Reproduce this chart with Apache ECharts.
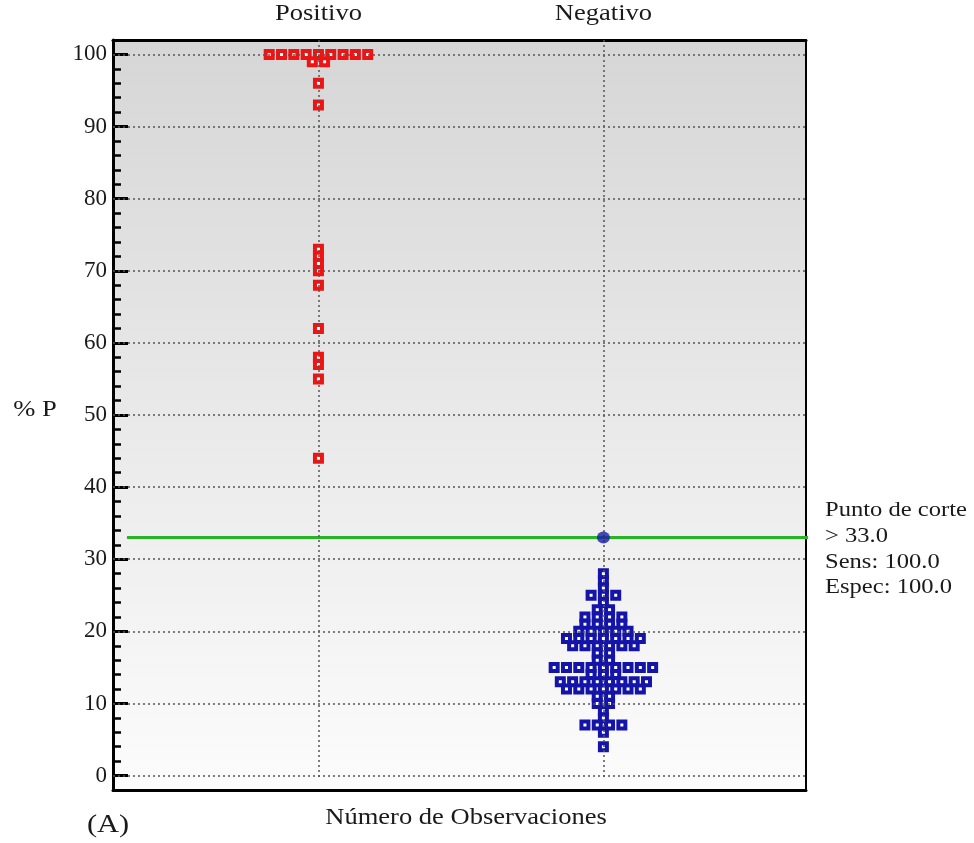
<!DOCTYPE html>
<html><head><meta charset="utf-8">
<script src="https://cdn.jsdelivr.net/npm/echarts@6/dist/echarts.min.js"></script>
<style>html,body{margin:0;padding:0;background:#fff}#c{width:974px;height:843px}</style>
</head><body><div id="c"></div>
<script>
// ---- data ----
const categories = ['Positivo', 'Negativo'];
const positivoValues = [100, 100, 100, 100, 100, 100, 100, 100, 100, 99, 99, 96, 93,
  73, 72, 71, 70, 68, 62, 58, 57, 55, 44];
const negativoValues = [28, 27, 26, 25, 25, 25, 24, 23, 23,
  22, 22, 22, 22, 21, 21, 21, 21, 20, 20, 20, 20, 20,
  19, 19, 19, 19, 19, 19, 19, 18, 18, 18, 18, 18, 18,
  17, 17, 16, 16, 15, 15, 15, 15, 15, 15, 15, 15, 15,
  14, 14, 14, 13, 13, 13, 13, 13, 13, 13, 13,
  12, 12, 12, 12, 12, 12, 12, 11, 11, 10, 10, 9, 8,
  7, 7, 7, 7, 6, 4];
const yTickValues = [0, 10, 20, 30, 40, 50, 60, 70, 80, 90, 100];
const yTickLabels = ['0', '10', '20', '30', '40', '50', '60', '70', '80', '90', '100'];
const cutoffValue = 33.0;
const sensValue = 100.0;
const especValue = 100.0;
const yAxisName = '% P';
const xAxisName = 'Número de Observaciones';
const panelLabel = '(A)';

// ---- layout / style ----
const SERIF = '"Liberation Serif", "Times New Roman", "DejaVu Serif", serif';
const TXT = '#1a1a1a';
const SLOT = 0.0432;       // horizontal spacing of stacked dots, x-axis units
const SX = 1.17;           // horizontal stretch of the original lettering
const X_MIN = 0.279, X_MAX = 2.711, Y_MIN = -2, Y_MAX = 102;

function stackDots(values, center) {
  const counts = new Map();
  values.forEach(v => counts.set(v, (counts.get(v) || 0) + 1));
  const out = [];
  counts.forEach((n, v) => {
    for (let i = 0; i < n; i++) out.push([center + (i - (n - 1) / 2) * SLOT, v]);
  });
  return out;
}

const chart = echarts.init(document.getElementById('c'), null, {renderer: 'canvas'});
const frame = w => ({show: true, onZero: false, lineStyle: {color: '#000', width: w}});

chart.setOption({
  animation: false,
  backgroundColor: '#fff',
  grid: {
    left: 113, top: 40, width: 693, height: 750, show: true, borderWidth: 0,
    backgroundColor: {type: 'linear', x: 0, y: 0, x2: 0, y2: 1,
      colorStops: [{offset: 0, color: '#d6d6d6'}, {offset: 1, color: '#fcfcfc'}]}
  },
  xAxis: [
    {type: 'value', min: X_MIN, max: X_MAX, position: 'bottom', axisLine: frame(3),
     axisTick: {show: false}, axisLabel: {show: false}, splitLine: {show: false}},
    {type: 'value', min: X_MIN, max: X_MAX, position: 'top', axisLine: frame(3),
     axisTick: {show: false}, axisLabel: {show: false}, splitLine: {show: false}}
  ],
  yAxis: [
    {type: 'value', min: Y_MIN, max: Y_MAX, interval: 2, position: 'left', axisLine: frame(3),
     axisTick: {show: true, inside: true, length: 8, lineStyle: {color: '#000', width: 2.5}},
     axisLabel: {show: false}, splitLine: {show: false}},
    {type: 'value', min: Y_MIN, max: Y_MAX, position: 'left', offset: 0,
     axisLine: {show: false},
     axisTick: {show: true, inside: true, length: 15, customValues: yTickValues,
       lineStyle: {color: '#000', width: 3}},
     axisLabel: {show: true, customValues: yTickValues, margin: 6,
       formatter: v => yTickLabels[yTickValues.indexOf(v)],
       fontFamily: SERIF, fontSize: 23, color: TXT},
     splitLine: {show: false}},
    {type: 'value', min: Y_MIN, max: Y_MAX, position: 'right', axisLine: frame(2),
     axisTick: {show: false}, axisLabel: {show: false}, splitLine: {show: false}}
  ],
  series: [
    {
      type: 'line', data: [], silent: true, z: 1,
      markLine: {
        silent: true, symbol: 'none', animation: false, label: {show: false},
        lineStyle: {color: '#555', type: [2, 3], width: 1.5},
        data: yTickValues.map(v => ({yAxis: v})).concat(
          categories.map((c, i) => [{coord: [i + 1, Y_MAX]}, {coord: [i + 1, -0.4]}]))
      }
    },
    {
      name: categories[0], type: 'scatter', z: 3, symbol: 'rect', symbolSize: 7,
      itemStyle: {color: '#fff', borderColor: '#ee1414', borderWidth: 4, opacity: 1},
      data: stackDots(positivoValues, 1)
    },
    {
      name: categories[1], type: 'scatter', z: 3, symbol: 'rect', symbolSize: 7,
      itemStyle: {color: '#fff', borderColor: '#1414a8', borderWidth: 4, opacity: 1},
      data: stackDots(negativoValues, 2)
    },
    {
      type: 'line', z: 4, clip: false, symbol: 'none', silent: true,
      lineStyle: {color: '#25b525', width: 3},
      data: [[0.328, cutoffValue], [2.718, cutoffValue]]
    },
    {
      type: 'scatter', z: 5, symbol: 'circle', symbolSize: [13, 12], silent: true,
      itemStyle: {color: '#1a1aa8'},
      data: [[2, cutoffValue]]
    }
  ]
});

const font = size => size + 'px ' + SERIF;
const graphics = categories.map((c, i) => ({
  type: 'text', x: chart.convertToPixel({xAxisIndex: 0}, i + 1), y: 14.5, scaleX: SX,
  style: {text: c, font: font(22.7), fill: TXT, align: 'center', verticalAlign: 'middle'}
}));
graphics.push(
  {type: 'text', x: 35, y: 410, scaleX: SX,
   style: {text: yAxisName, font: font(22.7), fill: TXT, align: 'center', verticalAlign: 'middle'}},
  {type: 'text', x: 466, y: 818, scaleX: SX,
   style: {text: xAxisName, font: font(22.7), fill: TXT, align: 'center', verticalAlign: 'middle'}},
  {type: 'text', x: 108, y: 825, scaleX: SX,
   style: {text: panelLabel, font: font(26), fill: TXT, align: 'center', verticalAlign: 'middle'}},
  {type: 'text', x: 825, y: 498, scaleX: SX,
   style: {text: ['Punto de corte', '> ' + cutoffValue.toFixed(1), 'Sens: ' + sensValue.toFixed(1),
                  'Espec: ' + especValue.toFixed(1)].join('\n'),
           font: font(21), lineHeight: 25.7, fill: TXT, align: 'left', verticalAlign: 'top'}}
);
chart.setOption({graphic: graphics});
</script>
</body></html>
